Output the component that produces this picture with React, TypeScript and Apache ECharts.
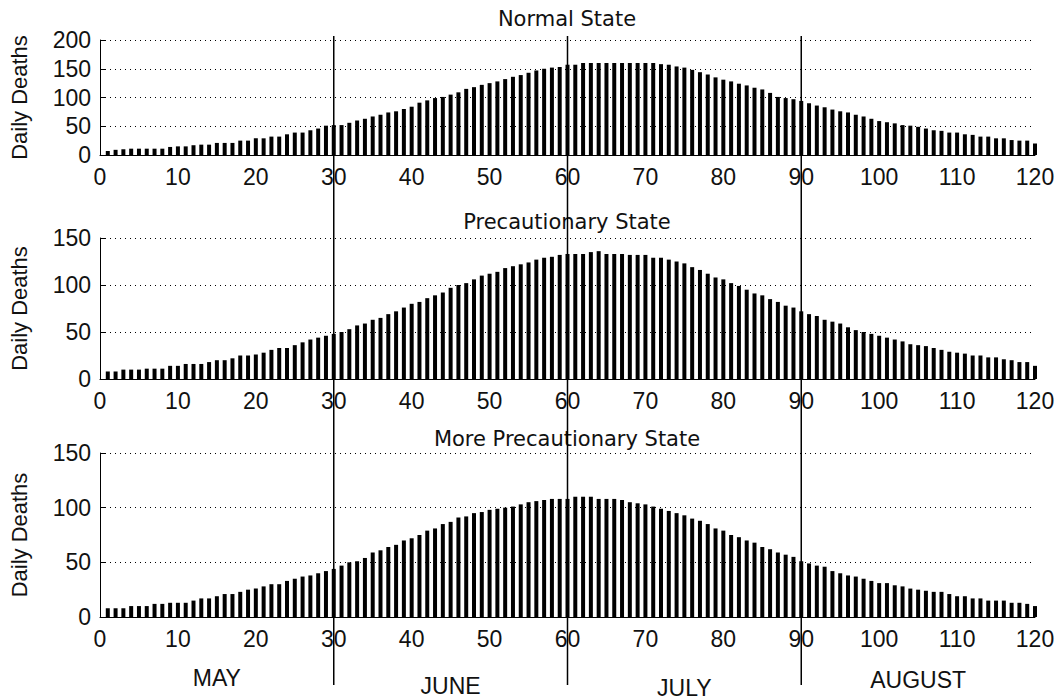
import React, { useEffect, useRef } from "react";
import * as echarts from "echarts";

const days: number[] = Array.from({ length: 120 }, (_, i) => i + 1);

const normalState: number[] = [
  7, 9, 10, 11, 11, 11, 11, 11, 14, 15,
  15, 17, 18, 18, 21, 21, 21, 25, 25, 29,
  29, 32, 32, 36, 39, 39, 43, 46, 51, 52,
  52, 56, 60, 63, 67, 70, 74, 76, 80, 84,
  91, 95, 99, 101, 105, 109, 115, 118, 122, 125,
  128, 132, 136, 139, 143, 147, 150, 152, 153, 157,
  157, 160, 160, 160, 160, 160, 160, 160, 160, 160,
  160, 158, 157, 154, 152, 148, 144, 140, 135, 131,
  128, 124, 121, 117, 114, 108, 101, 99, 97, 94,
  90, 86, 83, 79, 76, 74, 70, 67, 63, 59,
  57, 55, 52, 51, 49, 46, 43, 42, 39, 39,
  36, 35, 32, 32, 29, 29, 26, 25, 25, 20,
];

const precautionaryState: number[] = [
  8, 8, 10, 10, 10, 11, 11, 11, 14, 14,
  16, 16, 16, 18, 20, 20, 22, 25, 25, 26,
  28, 31, 33, 33, 36, 39, 42, 44, 46, 48,
  50, 53, 57, 59, 63, 65, 69, 72, 76, 80,
  82, 86, 89, 92, 97, 100, 102, 106, 110, 112,
  114, 118, 120, 122, 124, 127, 129, 130, 132, 133,
  133, 133, 135, 136, 133, 133, 133, 132, 132, 132,
  129, 129, 127, 125, 123, 119, 116, 112, 108, 106,
  102, 99, 95, 91, 89, 85, 82, 78, 76, 72,
  69, 67, 63, 61, 59, 55, 52, 50, 48, 46,
  44, 42, 40, 37, 36, 35, 33, 31, 29, 28,
  27, 25, 25, 23, 23, 21, 20, 18, 18, 14,
];

const morePrecautionaryState: number[] = [
  8, 8, 8, 10, 10, 10, 12, 12, 13, 13,
  13, 15, 17, 17, 19, 21, 21, 23, 25, 26,
  28, 30, 30, 33, 35, 37, 38, 40, 42, 44,
  47, 50, 51, 54, 59, 61, 64, 66, 70, 72,
  75, 79, 81, 85, 87, 91, 92, 95, 96, 98,
  99, 100, 101, 103, 105, 106, 107, 108, 108, 108,
  110, 110, 110, 108, 108, 108, 107, 105, 104, 103,
  101, 99, 97, 95, 93, 90, 88, 85, 81, 79,
  75, 73, 70, 68, 64, 62, 59, 57, 55, 51,
  49, 47, 46, 42, 40, 38, 37, 35, 33, 31,
  31, 29, 28, 26, 25, 24, 23, 23, 21, 19,
  19, 17, 17, 15, 15, 15, 13, 13, 12, 10,
];

const panelTitles: string[] = ["Normal State", "Precautionary State", "More Precautionary State"];
const yMaxes: number[] = [200, 150, 150];
const monthBoundaries: number[] = [30, 60, 90];
const monthNames: string[] = ["MAY", "JUNE", "JULY", "AUGUST"];
const monthMidDays: number[] = [15, 45, 75, 105];

const FONT = "'Liberation Sans', Arial, sans-serif";
const TITLE_FONT = "'DejaVu Sans', sans-serif";

export default function App() {
  const ref = useRef<HTMLDivElement>(null);

  useEffect(() => {
    document.body.style.margin = "0";
    if (!ref.current) return;
    const chart = echarts.init(ref.current, null, { renderer: "svg" });

    const grids = [
      { left: 100, right: 28, top: 40, height: 115 },
      { left: 100, right: 28, top: 238, height: 141 },
      { left: 100, right: 28, top: 453, height: 164 },
    ];
    const seriesData = [normalState, precautionaryState, morePrecautionaryState];
    const titleTops = [8, 211, 428];

    const option: any = {
      animation: false,
      backgroundColor: "#ffffff",
      title: panelTitles.map((t, i) => ({
        text: t,
        left: 567,
        top: titleTops[i],
        textAlign: "center",
        padding: 0,
        textStyle: { fontFamily: TITLE_FONT, fontSize: 21, fontWeight: "normal", color: "#111" },
      })),
      grid: grids,
      xAxis: grids.map((_, i) => ({
        type: "value",
        gridIndex: i,
        min: 0,
        max: 120,
        interval: 10,
        axisLine: { show: true, onZero: false, lineStyle: { color: "#000", width: 1 } },
        axisTick: { show: true, inside: true, length: 5, lineStyle: { color: "#000" } },
        axisLabel: { fontFamily: FONT, fontSize: 23, color: "#111", margin: 10 },
        splitLine: { show: false },
      })),
      yAxis: grids.map((_, i) => ({
        type: "value",
        gridIndex: i,
        min: 0,
        max: yMaxes[i],
        interval: 50,
        name: "Daily Deaths",
        nameLocation: "middle",
        nameGap: 70,
        nameTextStyle: { fontFamily: FONT, fontSize: 22, color: "#111" },
        axisLine: { show: true, lineStyle: { color: "#000", width: 1 } },
        axisTick: { show: true, inside: true, length: 5, lineStyle: { color: "#000" } },
        axisLabel: { fontFamily: FONT, fontSize: 23, color: "#111", margin: 9 },
        splitLine: { show: true, lineStyle: { color: "#000", width: 1, type: [1, 4] } },
      })),
      series: seriesData.map((vals, i) => ({
        type: "bar",
        xAxisIndex: i,
        yAxisIndex: i,
        barWidth: 4,
        itemStyle: { color: "#000" },
        data: days.map((d, k) => [d, vals[k]]),
      })),
    };

    chart.setOption(option);

    const graphics: any[] = [];
    monthBoundaries.forEach((m) => {
      const px = chart.convertToPixel({ xAxisIndex: 0 }, m) as number;
      graphics.push({
        type: "line",
        shape: { x1: px, y1: 36, x2: px, y2: 685 },
        style: { stroke: "#000", lineWidth: 1.5 },
        z: 100,
      });
    });
    const monthYs = [678, 686, 688, 680];
    monthNames.forEach((name, i) => {
      const px = chart.convertToPixel({ xAxisIndex: 2 }, monthMidDays[i]) as number;
      graphics.push({
        type: "text",
        x: px,
        y: monthYs[i],
        style: {
          text: name,
          fontFamily: FONT,
          fontSize: 23,
          fill: "#111",
          align: "center",
          verticalAlign: "middle",
        },
        z: 100,
      });
    });
    chart.setOption({ graphic: graphics });

    return () => chart.dispose();
  }, []);

  return <div ref={ref} style={{ width: 1063, height: 700 }} />;
}
